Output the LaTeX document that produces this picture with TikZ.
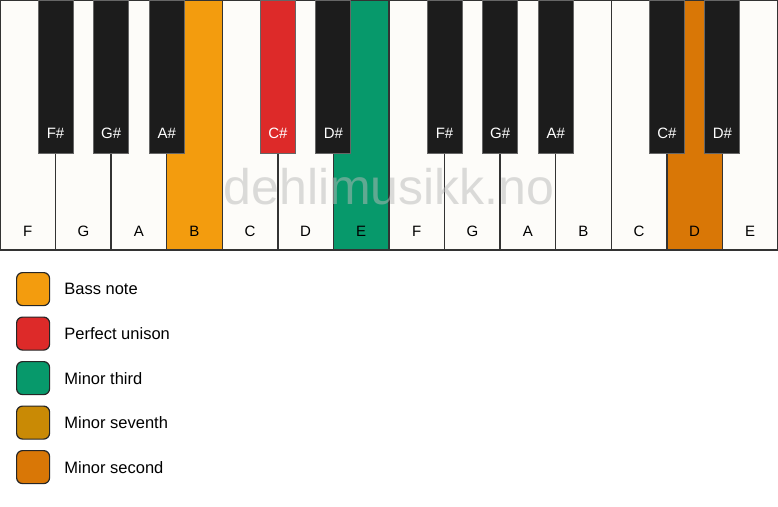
\documentclass[tikz,border=0pt]{standalone}
\usepackage{fontspec}
\setmainfont{Liberation Sans}
\usetikzlibrary{positioning}
\definecolor{keyivory}{HTML}{FDFCF9}
\definecolor{keyblack}{HTML}{1C1C1C}
\definecolor{bassorange}{HTML}{F39C0E}
\definecolor{unisonred}{HTML}{DD2A29}
\definecolor{thirdgreen}{HTML}{07996B}
\definecolor{seventhgold}{HTML}{C98A05}
\definecolor{secondorange}{HTML}{D97706}
\tikzset{
        whitekey/.style={draw=black!80, line width=1.3pt, minimum width=55.57pt, minimum height=250pt, anchor=north west, inner sep=0pt, outer sep=0pt},
        blackkey/.style={draw=black!60, line width=1pt, fill=keyblack, minimum width=35pt, minimum height=153pt, anchor=north, inner sep=0pt, outer sep=0pt},
        keylabel/.style={font=\fontsize{15}{18}\selectfont, inner sep=0pt},
        swatch/.style={draw=black!85, line width=1.2pt, rounded corners=6pt, minimum size=33pt, inner sep=0pt, anchor=north west},
        legendtext/.style={font=\fontsize{16.5}{19}\selectfont, anchor=west, inner sep=0pt},
        watermark/.style={font=\fontsize{50}{58}\selectfont, text=gray!55, text opacity=0.5}
          }
\begin{document}
\begin{tikzpicture}[x=1pt, y=-1pt]
            \useasboundingbox[fill=white] (0,0) rectangle (778,506);
            % white keys
            \foreach \i/\n/\c in {0/F/keyivory, 1/G/keyivory, 2/A/keyivory, 3/B/bassorange, 4/C/keyivory, 5/D/keyivory, 6/E/thirdgreen,
              7/F/keyivory, 8/G/keyivory, 9/A/keyivory, 10/B/keyivory, 11/C/keyivory, 12/D/secondorange, 13/E/keyivory}{
              \node[whitekey, fill=\c] (w\i) at (\i*55.57, 0) {};
              \node[keylabel] (wl\i) at ([yshift=19pt]w\i.south) {\n};
            }
            % black keys
            \foreach \j/\n/\c in {1/F/keyblack, 2/G/keyblack, 3/A/keyblack, 5/C/unisonred, 6/D/keyblack,
              8/F/keyblack, 9/G/keyblack, 10/A/keyblack, 12/C/keyblack, 13/D/keyblack}{
              \node[blackkey, fill=\c] (b\j) at (\j*55.57, 0) {};
              \node[keylabel, text=white] (bl\j) at ([yshift=20pt]b\j.south) {\n\#};
            }
            \node[watermark] (mark) at (389,187) {dehlimusikk.no};
            % legend
            \foreach \k/\c/\t in {0/bassorange/Bass note, 1/unisonred/Perfect unison, 2/thirdgreen/Minor third,
              3/seventhgold/Minor seventh, 4/secondorange/Minor second}{
              \node[swatch, fill=\c] (s\k) at (16, 272+44.5*\k) {};
              \node[legendtext] (t\k) at ([xshift=14pt]s\k.east) {\t};
            }
          \end{tikzpicture}
\end{document}
